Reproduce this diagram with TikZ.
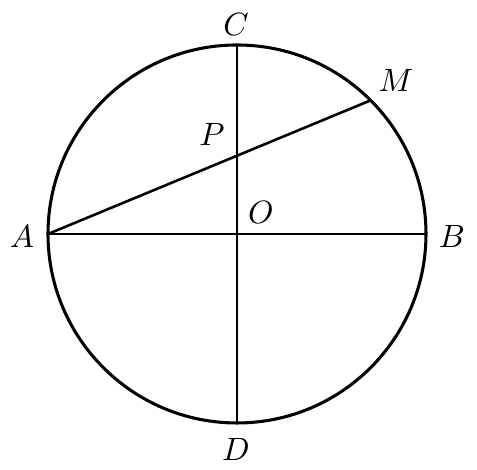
\documentclass[tikz,border=0pt]{standalone}
\begin{document}
\begin{tikzpicture}[x=0.31pt,y=-0.31pt,
  rim/.style={line width=0.95pt},
  seg/.style={line width=0.8pt},
  lbl/.style={inner sep=0pt}]
\useasboundingbox (0,0) rectangle (477,470);
\coordinate (O) at (237,234);
\coordinate (A) at (48,234);
\coordinate (B) at (426,234);
\coordinate (C) at (237,45);
\coordinate (D) at (237,423);
\coordinate (M) at (370.6,100.4);
\coordinate (P) at (237,155.7);
\draw[rim] (O) circle[radius=58.59pt];
\draw[seg] (A) -- (B);
\draw[seg] (C) -- (D);
\draw[seg] (A) -- (M);
\node[lbl] (lC) at (236,24) {$C$};
\node[lbl] (lA) at (22,236) {$A$};
\node[lbl] (lB) at (452,236) {$B$};
\node[lbl] (lD) at (236,450) {$D$};
\node[lbl] (lM) at (396,80) {$M$};
\node[lbl] (lP) at (212,134) {$P$};
\node[lbl] (lO) at (261,212) {$O$};
\end{tikzpicture}
\end{document}
